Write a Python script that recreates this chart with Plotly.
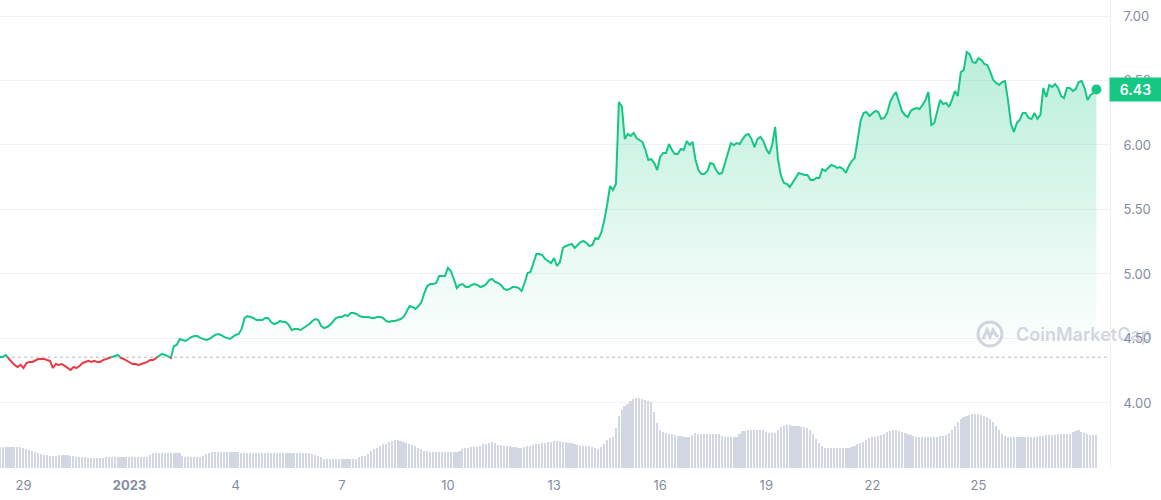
import numpy as np
import pandas as pd
import plotly.graph_objects as go

# ---------------- data ----------------
start_time = "2022-12-28 08:00"
step = "2h"

price = [
    4.357, 4.357, 4.372, 4.341, 4.318, 4.295, 4.279, 4.295, 4.271, 4.310,
    4.318, 4.318, 4.333, 4.341, 4.341, 4.341, 4.333, 4.326, 4.271, 4.302,
    4.295, 4.302, 4.287, 4.271, 4.256, 4.279, 4.271, 4.287, 4.310, 4.318,
    4.326, 4.318, 4.326, 4.318, 4.318, 4.333, 4.341, 4.349, 4.357, 4.364,
    4.372, 4.349, 4.341, 4.326, 4.310, 4.302, 4.302, 4.295, 4.302, 4.310,
    4.318, 4.333, 4.333, 4.349, 4.364, 4.380, 4.372, 4.364, 4.349, 4.442,
    4.450, 4.496, 4.488, 4.481, 4.496, 4.512, 4.519, 4.519, 4.504, 4.496,
    4.488, 4.496, 4.512, 4.527, 4.535, 4.527, 4.512, 4.504, 4.496, 4.512,
    4.527, 4.535, 4.574, 4.659, 4.674, 4.667, 4.659, 4.643, 4.643, 4.643,
    4.659, 4.659, 4.628, 4.612, 4.620, 4.636, 4.628, 4.628, 4.605, 4.566,
    4.574, 4.574, 4.566, 4.581, 4.597, 4.612, 4.636, 4.651, 4.643, 4.597,
    4.581, 4.589, 4.605, 4.628, 4.659, 4.667, 4.667, 4.682, 4.674, 4.698,
    4.698, 4.690, 4.674, 4.667, 4.667, 4.667, 4.659, 4.659, 4.667, 4.667,
    4.659, 4.636, 4.628, 4.636, 4.636, 4.643, 4.651, 4.667, 4.713, 4.752,
    4.744, 4.729, 4.752, 4.783, 4.853, 4.907, 4.922, 4.922, 4.930, 4.984,
    4.984, 4.984, 5.047, 5.023, 4.961, 4.891, 4.915, 4.922, 4.899, 4.899,
    4.915, 4.922, 4.915, 4.899, 4.907, 4.922, 4.953, 4.961, 4.938, 4.930,
    4.915, 4.884, 4.876, 4.884, 4.899, 4.899, 4.891, 4.868, 4.930, 5.008,
    5.015, 5.093, 5.155, 5.155, 5.147, 5.116, 5.101, 5.085, 5.124, 5.062,
    5.093, 5.202, 5.217, 5.225, 5.233, 5.202, 5.225, 5.248, 5.256, 5.240,
    5.217, 5.225, 5.279, 5.271, 5.318, 5.411, 5.535, 5.682, 5.651, 5.698,
    6.333, 6.300, 6.046, 6.085, 6.070, 6.093, 6.054, 6.039, 6.023, 5.961,
    5.884, 5.891, 5.860, 5.806, 5.907, 5.938, 5.938, 6.008, 5.961, 5.930,
    5.930, 5.969, 5.961, 6.031, 6.000, 6.023, 5.884, 5.806, 5.775, 5.775,
    5.798, 5.860, 5.853, 5.806, 5.775, 5.783, 5.853, 5.938, 6.015, 6.000,
    6.015, 6.008, 6.046, 6.077, 6.085, 6.046, 5.984, 6.046, 6.062, 6.031,
    5.969, 5.930, 6.000, 6.140, 5.884, 5.760, 5.705, 5.698, 5.674, 5.713,
    5.744, 5.783, 5.775, 5.767, 5.767, 5.729, 5.729, 5.744, 5.744, 5.814,
    5.798, 5.822, 5.845, 5.837, 5.822, 5.829, 5.814, 5.783, 5.837, 5.876,
    5.899, 6.039, 6.186, 6.248, 6.256, 6.225, 6.248, 6.264, 6.256, 6.202,
    6.209, 6.248, 6.333, 6.380, 6.411, 6.341, 6.264, 6.233, 6.217, 6.264,
    6.279, 6.287, 6.279, 6.310, 6.349, 6.411, 6.155, 6.171, 6.256, 6.349,
    6.318, 6.326, 6.295, 6.349, 6.419, 6.380, 6.566, 6.581, 6.721, 6.705,
    6.643, 6.636, 6.674, 6.659, 6.628, 6.620, 6.566, 6.504, 6.481, 6.465,
    6.488, 6.496, 6.349, 6.163, 6.101, 6.171, 6.194, 6.248, 6.248, 6.209,
    6.202, 6.248, 6.202, 6.233, 6.442, 6.372, 6.465, 6.450, 6.473, 6.442,
    6.380, 6.364, 6.442, 6.442, 6.419, 6.434, 6.488, 6.496, 6.442, 6.349,
    6.388, 6.403, 6.430,
]

volume_musd = [
    21, 21, 21, 21, 21, 21, 21, 21, 20, 19,
    18, 17, 16, 15, 14, 13, 13, 12, 12, 12,
    13, 13, 13, 13, 12, 12, 11, 11, 11, 11,
    10, 10, 10, 10, 10, 10, 11, 11, 11, 11,
    11, 11, 11, 11, 11, 11, 11, 11, 11, 11,
    11, 13, 15, 15, 15, 15, 15, 15, 15, 15,
    15, 15, 12, 11, 11, 11, 11, 11, 11, 12,
    14, 15, 16, 16, 16, 16, 16, 16, 16, 16,
    16, 16, 15, 15, 15, 15, 15, 15, 15, 15,
    15, 15, 15, 15, 15, 15, 15, 15, 15, 15,
    15, 15, 15, 15, 15, 15, 14, 13, 12, 11,
    9, 9, 9, 9, 9, 9, 9, 9, 9, 9,
    9, 9, 11, 12, 12, 14, 17, 19, 20, 22,
    24, 24, 26, 27, 28, 28, 27, 26, 25, 24,
    23, 22, 20, 19, 17, 17, 16, 16, 16, 16,
    16, 16, 16, 16, 16, 16, 17, 19, 20, 20,
    21, 21, 21, 22, 24, 24, 25, 26, 25, 23,
    23, 22, 22, 22, 21, 21, 20, 20, 21, 22,
    22, 23, 24, 24, 25, 25, 26, 26, 27, 27,
    27, 26, 26, 25, 25, 24, 23, 22, 22, 22,
    22, 21, 20, 19, 21, 24, 28, 30, 31, 40,
    52, 58, 62, 64, 67, 69, 70, 70, 69, 68,
    67, 66, 56, 45, 38, 36, 35, 34, 34, 33,
    32, 32, 31, 31, 31, 33, 35, 34, 34, 34,
    34, 34, 34, 34, 34, 32, 31, 31, 31, 31,
    31, 34, 37, 37, 38, 38, 38, 38, 38, 38,
    36, 35, 35, 35, 38, 41, 42, 43, 43, 42,
    42, 42, 41, 41, 40, 38, 34, 29, 25, 22,
    20, 20, 20, 20, 20, 20, 20, 20, 20, 21,
    22, 24, 25, 26, 28, 30, 31, 31, 32, 33,
    34, 36, 37, 38, 38, 37, 36, 35, 34, 33,
    32, 31, 31, 31, 31, 31, 31, 31, 31, 32,
    32, 33, 35, 38, 42, 46, 49, 51, 52, 53,
    54, 54, 54, 53, 52, 51, 49, 46, 42, 38,
    34, 32, 31, 31, 31, 31, 31, 31, 31, 31,
    31, 31, 31, 32, 32, 33, 33, 33, 33, 34,
    34, 34, 34, 34, 36, 37, 38, 36, 35, 34,
    33, 33, 33,
]

open_price = 4.355

x_tick_dates = ["2022-12-29", "2023-01-01", "2023-01-04", "2023-01-07", "2023-01-10",
                "2023-01-13", "2023-01-16", "2023-01-19", "2023-01-22", "2023-01-25"]
x_tick_labels = ["29", "<b>2023</b>", "4", "7", "10", "13", "16", "19", "22", "25"]
y_tick_values = [4.0, 4.5, 5.0, 5.5, 6.0, 6.5, 7.0]

x_range = ["2022-12-28 08:03", "2023-01-28 17:14"]
price_range = [3.496, 7.124]

GREEN = "#16c784"
RED = "#ea3943"
TICK_COLOR = "#858ca2"
GRID_COLOR = "#eff2f5"

assert len(price) == len(volume_musd)
times = pd.date_range(start_time, periods=len(price), freq=step)

# ---------------- split price polyline at the opening level ----------------
t_ns = times.asi8.astype(np.float64)
aug_t, aug_p = [], []
for k in range(len(price)):
    if k > 0:
        p0, p1 = price[k - 1], price[k]
        if (p0 - open_price) * (p1 - open_price) < 0:
            f = (open_price - p0) / (p1 - p0)
            aug_t.append(t_ns[k - 1] + f * (t_ns[k] - t_ns[k - 1]))
            aug_p.append(open_price)
    aug_t.append(t_ns[k])
    aug_p.append(price[k])

aug_x = pd.to_datetime(np.array(aug_t, dtype=np.int64))
m = len(aug_p)
seg_up = [(aug_p[j] + aug_p[j + 1]) / 2 >= open_price for j in range(m - 1)]

green_y, red_y = [], []
for j in range(m):
    left = seg_up[j - 1] if j > 0 else None
    right = seg_up[j] if j < m - 1 else None
    green_y.append(aug_p[j] if (left is True or right is True) else None)
    red_y.append(aug_p[j] if (left is False or right is False) else None)

fill_y = [max(v, open_price) for v in aug_p]

fig = go.Figure()

# volume bars
fig.add_trace(go.Bar(
    x=times, y=volume_musd, yaxis="y2",
    marker=dict(color="#d3d7e4", line=dict(width=0)),
    width=0.55 * 2 * 3600 * 1000,
    hoverinfo="skip",
))

# baseline for the fill
fig.add_trace(go.Scatter(
    x=aug_x, y=[open_price] * m, mode="lines",
    line=dict(width=0, color="rgba(0,0,0,0)"), hoverinfo="skip",
))
# green gradient fill
fig.add_trace(go.Scatter(
    x=aug_x, y=fill_y, mode="lines", fill="tonexty",
    line=dict(width=0, color="rgba(0,0,0,0)"),
    fillgradient=dict(
        type="vertical",
        colorscale=[[0, "rgba(22,199,132,0.0)"], [0.35, "rgba(22,199,132,0.10)"],
                    [1, "rgba(22,199,132,0.30)"]],
        start=open_price, stop=max(price),
    ),
    hoverinfo="skip",
))

# price lines
fig.add_trace(go.Scatter(
    x=aug_x, y=red_y, mode="lines", connectgaps=False,
    line=dict(color=RED, width=2), hoverinfo="skip",
))
fig.add_trace(go.Scatter(
    x=aug_x, y=green_y, mode="lines", connectgaps=False,
    line=dict(color=GREEN, width=2), hoverinfo="skip",
))
# end dot
fig.add_trace(go.Scatter(
    x=[times[-1]], y=[price[-1]], mode="markers",
    marker=dict(size=10, color=GREEN), hoverinfo="skip",
))

# dotted opening-price line
fig.add_shape(type="line", xref="paper", yref="y", x0=0, x1=0.997,
              y0=open_price, y1=open_price,
              line=dict(color="#b4b9c8", width=1, dash="dot"), layer="below")

# watermark
plot_w, plot_h = 1110.0, 468.0
wm_color = "rgba(150,157,182,0.42)"
fig.add_shape(type="circle", xref="paper", yref="paper",
              xsizemode="pixel", ysizemode="pixel",
              xanchor=990 / plot_w, yanchor=1 - 334 / plot_h,
              x0=-12, x1=12, y0=-12, y1=12,
              line=dict(color=wm_color, width=3), layer="above")
fig.add_shape(type="path", xref="paper", yref="paper",
              xsizemode="pixel", ysizemode="pixel",
              xanchor=990 / plot_w, yanchor=1 - 334 / plot_h,
              path="M -7,-5 L -3,4 L 0,-3 L 3,4 L 6,-1 L 8,-3",
              line=dict(color=wm_color, width=3), layer="above")
fig.add_annotation(xref="paper", yref="paper", x=1014 / plot_w, y=1 - 334 / plot_h,
                   xanchor="left", yanchor="middle", showarrow=False,
                   text="CoinMarketCap",
                   font=dict(family="Inter", size=18, color=wm_color, weight=600))

# last price badge
fig.add_annotation(xref="paper", yref="y", x=1, y=price[-1], xanchor="left",
                   xshift=-1, yanchor="middle", showarrow=False,
                   text=f"{price[-1]:.2f}", bgcolor=GREEN, width=51, height=23,
                   borderpad=0, align="center",
                   font=dict(family="Inter", size=14, color="white", weight=600))

fig.update_layout(
    width=1161, height=500,
    margin=dict(l=0, r=51, t=0, b=32),
    paper_bgcolor="white", plot_bgcolor="white",
    showlegend=False, hovermode=False, bargap=0,
    font=dict(family="Inter, sans-serif", size=13, color=TICK_COLOR),
    xaxis=dict(
        type="date", range=x_range, tickvals=x_tick_dates, ticktext=x_tick_labels,
        showgrid=False, zeroline=False, showline=False, ticks="",
        ticklabelstandoff=8, tickfont=dict(size=13, color=TICK_COLOR),
    ),
    yaxis=dict(
        side="right", range=price_range, tickvals=y_tick_values, tickformat=".2f",
        showgrid=True, gridcolor=GRID_COLOR, gridwidth=1, zeroline=False,
        showline=True, linecolor=GRID_COLOR, linewidth=1, ticks="",
        ticklabelstandoff=10, tickfont=dict(size=13, color=TICK_COLOR),
    ),
    yaxis2=dict(overlaying="y", range=[0, 468], visible=False, fixedrange=True),
)

fig.write_html("out.html")
